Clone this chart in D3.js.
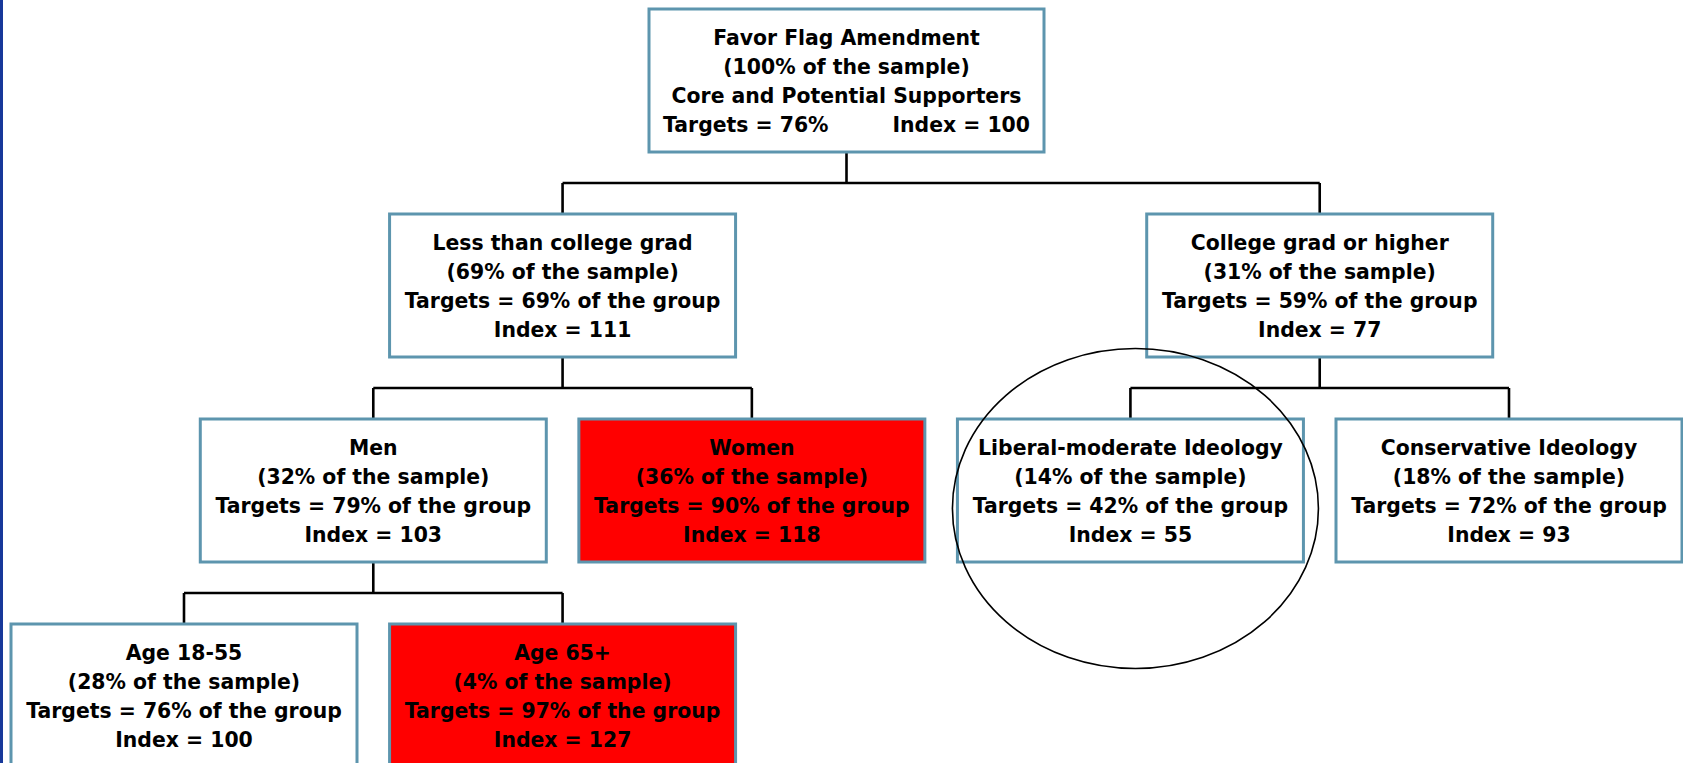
<!DOCTYPE html>
<html>
<head>
<meta charset="utf-8">
<title>Favor Flag Amendment</title>
<script src="https://cdn.jsdelivr.net/npm/d3@7"></script>
<style>
  html, body { margin: 0; padding: 0; background: #fff; }
  svg { display: block; }
  .box-text { font-family: "DejaVu Sans", Verdana, sans-serif; font-weight: bold; font-size: 20.4px; fill: #000; white-space: pre; }
</style>
</head>
<body>
<div id="treeChart"></div>
<script>
(function() {
  'use strict';
  var CHARTWIDTH = 1683;
  var CHARTHEIGHT = 763;

  // segments, their parent and the numbers shown in each box
  var NAMES = ['Favor Flag Amendment', 'Less than college grad', 'College grad or higher',
    'Men', 'Women', 'Liberal-moderate Ideology', 'Conservative Ideology', 'Age 18-55', 'Age 65+'];
  var PARENTS = ['', 'Favor Flag Amendment', 'Favor Flag Amendment',
    'Less than college grad', 'Less than college grad', 'College grad or higher', 'College grad or higher',
    'Men', 'Men'];
  var SAMPLE_PCT = [100, 69, 31, 32, 36, 14, 18, 28, 4];
  var TARGET_PCT = [76, 69, 59, 79, 90, 42, 72, 76, 97];
  var INDEX_VALUES = [100, 111, 77, 103, 118, 55, 93, 100, 127];
  var HIGHLIGHTED = ['Women', 'Age 65+'];
  var CIRCLED = 'Liberal-moderate Ideology';
  var ROOT_SUBTITLE = 'Core and Potential Supporters';

  // layout: half-column each box is centred on
  var COLUMN = {
    'Favor Flag Amendment': 3.5,
    'Less than college grad': 2, 'College grad or higher': 6,
    'Men': 1, 'Women': 3, 'Liberal-moderate Ideology': 5, 'Conservative Ideology': 7,
    'Age 18-55': 0, 'Age 65+': 2
  };

  var rows = NAMES.map(function(n, i) {
    return {name: n, parent: PARENTS[i], sample: SAMPLE_PCT[i], target: TARGET_PCT[i], index: INDEX_VALUES[i]};
  });
  var root = d3.stratify()
    .id(function(d) { return d.name; })
    .parentId(function(d) { return d.parent || null; })(rows);
  var nodes = root.descendants();

  var x = d3.scaleLinear().domain([0, 7]).range([184, 1509]);
  var y = d3.scaleLinear().domain([0, 3]).range([9, 624]);
  var BOXW = 346, ROOTW = 395, BOXH = 143, STEM = 31, LINEH = 29.1;

  function boxW(d) { return d.depth === 0 ? ROOTW : BOXW; }
  nodes.forEach(function(d) {
    d.cx = x(COLUMN[d.id]);
    d.top = y(d.depth);
  });

  var svg = d3.select('#treeChart').append('svg')
    .attr('width', CHARTWIDTH)
    .attr('height', CHARTHEIGHT);

  svg.append('rect')
    .attr('x', 0).attr('y', 0)
    .attr('width', 3).attr('height', CHARTHEIGHT)
    .attr('fill', '#17389a');

  // elbow connectors: parent stem, bar across the children, drops to each child
  var links = svg.append('g')
    .attr('fill', 'none')
    .attr('stroke', '#000')
    .attr('stroke-width', 2.6);
  nodes.filter(function(d) { return d.children; }).forEach(function(p) {
    var kids = p.children;
    var barY = kids[0].top - STEM;
    var xs = kids.map(function(k) { return k.cx; });
    var path = d3.path();
    path.moveTo(p.cx, p.top + BOXH);
    path.lineTo(p.cx, barY);
    path.moveTo(d3.min(xs), barY);
    path.lineTo(d3.max(xs), barY);
    kids.forEach(function(k) {
      path.moveTo(k.cx, barY);
      path.lineTo(k.cx, k.top);
    });
    links.append('path').attr('d', path.toString());
  });

  var box = svg.selectAll('g.node')
    .data(nodes)
    .enter().append('g')
    .attr('class', 'node')
    .attr('transform', function(d) { return 'translate(' + d.cx + ',' + d.top + ')'; });

  box.append('rect')
    .attr('x', function(d) { return -boxW(d) / 2; })
    .attr('y', 0)
    .attr('width', boxW)
    .attr('height', BOXH)
    .attr('fill', function(d) { return HIGHLIGHTED.indexOf(d.id) >= 0 ? '#ff0000' : '#fff'; })
    .attr('stroke', '#5d95ae')
    .attr('stroke-width', 3);

  function boxLines(d) {
    var r = d.data;
    if (d.depth === 0) {
      return [r.name, '(' + r.sample + '% of the sample)', ROOT_SUBTITLE,
        'Targets = ' + r.target + '%         Index = ' + r.index];
    }
    return [r.name, '(' + r.sample + '% of the sample)',
      'Targets = ' + r.target + '% of the group', 'Index = ' + r.index];
  }

  box.selectAll('text')
    .data(function(d) { return boxLines(d); })
    .enter().append('text')
    .attr('class', 'box-text')
    .attr('x', 0)
    .attr('y', function(t, i) { return 35.5 + i * LINEH; })
    .attr('text-anchor', 'middle')
    .text(function(t) { return t; });

  // hand-drawn ring around the liberal-moderate segment
  var circled = nodes.filter(function(d) { return d.id === CIRCLED; })[0];
  svg.append('ellipse')
    .attr('cx', circled.cx + 5)
    .attr('cy', circled.top + BOXH / 2 + 18)
    .attr('rx', 183)
    .attr('ry', 160)
    .attr('fill', 'none')
    .attr('stroke', '#000')
    .attr('stroke-width', 1.6);
})();
</script>
</body>
</html>
